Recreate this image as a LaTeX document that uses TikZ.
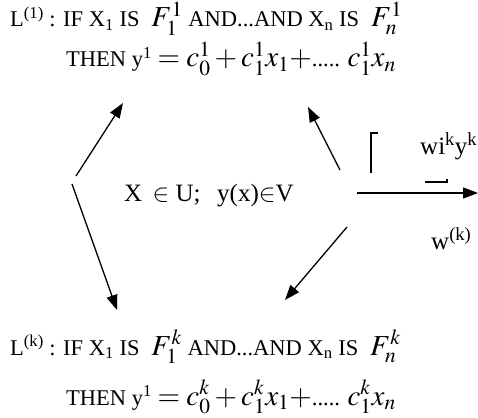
\documentclass[tikz,border=0pt]{standalone}
\usepackage{mathptmx}
\usepackage{fontspec}
\setmainfont{Liberation Serif}
\usetikzlibrary{arrows.meta}
\newcommand{\bigmath}[1]{{\fontsize{29}{29}\selectfont$#1$}}
\tikzset{
	txt/.style = {anchor=base west, inner sep=0pt, font=\fontsize{22.5}{24}\selectfont},
	lbl/.style = {anchor=base west, inner sep=0pt, font=\fontsize{25}{27}\selectfont},
	arr/.style = {line width=1.3pt, -{Triangle[length=15pt,width=11pt]}},
	bracket/.style = {line width=1.3pt}
}

\begin{document}
\begin{tikzpicture}[x=1pt,y=1pt]
		\useasboundingbox (0,0) rectangle (478,417);
	
		% rule 1
		\node[txt] (r1if) at (10,390) {L\textsuperscript{(1)} : IF X\textsubscript{1} IS \;\bigmath{F_1^1} AND...AND X\textsubscript{n} IS \;\bigmath{F_n^1}};
		\node[txt] (r1then) at (66,350) {THEN y\textsuperscript{1} \bigmath{=c_0^1+c_1^1x_1}\bigmath{+}..... \bigmath{c_1^1x_n}};
	
		% rule k
		\node[txt] (rkif) at (10,62) {L\textsuperscript{(k)} : IF X\textsubscript{1} IS \;\bigmath{F_1^k} AND...AND X\textsubscript{n} IS \;\bigmath{F_n^k}};
		\node[txt] (rkthen) at (66,12) {THEN y\textsuperscript{1} \bigmath{=c_0^k+c_1^kx_1}\bigmath{+}..... \bigmath{c_1^kx_n}};
	
		% centre and output
		\node[lbl] (dom) at (124,215) {X\, $\in$ U;\ \ \,y(x)$\in$V};
		\node[lbl] (sum) at (420,262) {wi\textsuperscript{k}y\textsuperscript{k}};
		\node[lbl] (wk) at (431,167) {w\textsuperscript{(k)}};
	
		\coordinate (lu) at (76,241);
		\coordinate (ld) at (72,233);
		\coordinate (ru) at (340,247);
		\coordinate (rd) at (347,190);
		\coordinate (out0) at (357,224);
		\coordinate (out1) at (478,224);
		\coordinate (tip1) at (123,314);
		\coordinate (tip2) at (117,107);
		\coordinate (tip3) at (308,310);
		\coordinate (tip4) at (285,117);
	
		\draw[arr] (lu) -- (tip1);
		\draw[arr] (ld) -- (tip2);
		\draw[arr] (ru) -- (tip3);
		\draw[arr] (rd) -- (tip4);
		\draw[arr] (out0) -- (out1);
	
		\draw[bracket] (371,244) -- (371,284) -- (378,284);
		\draw[bracket] (425,235) -- (447,235) -- (447,238);
	\end{tikzpicture}
\end{document}
